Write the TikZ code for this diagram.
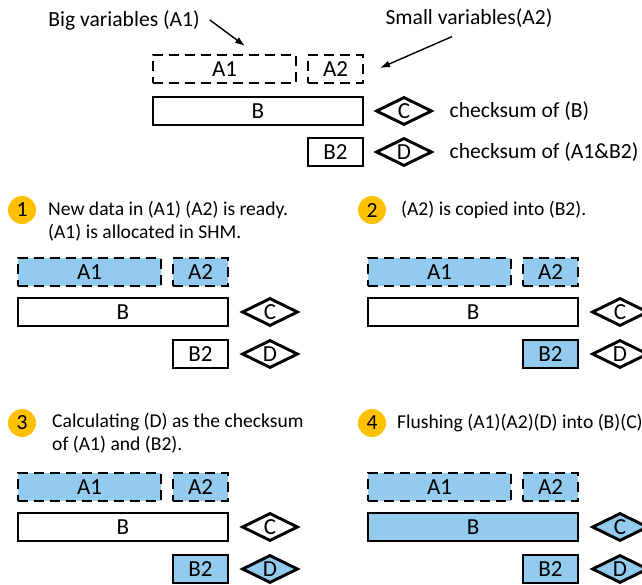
\documentclass[tikz,border=0pt]{standalone}
\usepackage{fontspec}
\setmainfont{Carlito}
\usetikzlibrary{shapes.geometric,arrows.meta}

\definecolor{varblue}{RGB}{146,203,238}
\definecolor{stepyellow}{RGB}{255,192,0}

\begin{document}
\begin{tikzpicture}[x=1pt,y=-1pt,
  font=\fontsize{21.6}{24}\selectfont,
  every node/.style={inner sep=0pt},
  box/.style={draw=black,line width=2.9pt,minimum height=28pt,font=\fontsize{23}{24}\selectfont},
  var/.style={box,dash pattern=on 10pt off 6pt},
  mem/.style={box},
  sum/.style={box,diamond,aspect=2,minimum width=56pt},
  stepnum/.style={circle,fill=stepyellow,minimum size=28pt},
  note/.style={anchor=west,align=left,font=\fontsize{19.6}{23}\selectfont},
  pointer/.style={-{Latex[length=10pt,width=7pt]},line width=1.4pt},
  on/.style={fill=varblue}]
\useasboundingbox (0,0) rectangle (642,585);
\clip (0,0) rectangle (642,585);

% legend
\node (bigvar) at (124,20) {Big variables (A1)};
\node (smallvar) at (469,18) {Small variables(A2)};
\coordinate (bigtip) at (245,46);
\coordinate (smalltip) at (380,68);
\draw[pointer] ([xshift=10pt]bigvar.east) -- (bigtip);
\draw[pointer] ([xshift=-17pt,yshift=-9pt]smallvar.south) -- (smalltip);

\begin{scope}[shift={(153,55)}]
\node[var,minimum width=143pt] (top-a1) at (71.5,14) {A1};
\node[var,minimum width=55pt] (top-a2) at (182.5,14) {A2};
\node[mem,minimum width=210pt] (top-b) at (105,56) {B};
\node[mem,minimum width=55pt] (top-b2) at (182.5,97) {B2};
\node[sum] (top-c) at (251,56) {C};
\node[sum] (top-d) at (251,97) {D};
\node[anchor=west] (top-cnote) at ([xshift=16pt]top-c.east) {checksum of (B)};
\node[anchor=west] (top-dnote) at ([xshift=16pt]top-d.east) {checksum of (A1\&B2)};
\end{scope}

% step 1
\begin{scope}[shift={(18,258)}]
\node[stepnum] (p1-num) at (4,-48) {1};
\node[note] (p1-text) at (30,-36.5) {New data in (A1) (A2) is ready.\\(A1) is allocated in SHM.};
\node[var,on,minimum width=143pt] (p1-a1) at (71.5,14) {A1};
\node[var,on,minimum width=55pt] (p1-a2) at (182.5,14) {A2};
\node[mem,minimum width=210pt] (p1-b) at (105,54) {B};
\node[mem,minimum width=55pt] (p1-b2) at (182.5,96) {B2};
\node[sum] (p1-c) at (252,54) {C};
\node[sum] (p1-d) at (252,96) {D};
\end{scope}

% step 2
\begin{scope}[shift={(368,258)}]
\node[stepnum] (p2-num) at (4,-48) {2};
\node[note] (p2-text) at (33,-48) {(A2) is copied into (B2).};
\node[var,on,minimum width=143pt] (p2-a1) at (71.5,14) {A1};
\node[var,on,minimum width=55pt] (p2-a2) at (182.5,14) {A2};
\node[mem,minimum width=210pt] (p2-b) at (105,54) {B};
\node[mem,on,minimum width=55pt] (p2-b2) at (182.5,96) {B2};
\node[sum] (p2-c) at (252,54) {C};
\node[sum] (p2-d) at (252,96) {D};
\end{scope}

% step 3
\begin{scope}[shift={(18,473)}]
\node[stepnum] (p3-num) at (4,-50) {3};
\node[note] (p3-text) at (34,-39.5) {Calculating (D) as the checksum\\of (A1) and (B2).};
\node[var,on,minimum width=143pt] (p3-a1) at (71.5,14) {A1};
\node[var,on,minimum width=55pt] (p3-a2) at (182.5,14) {A2};
\node[mem,minimum width=210pt] (p3-b) at (105,54) {B};
\node[mem,on,minimum width=55pt] (p3-b2) at (182.5,96) {B2};
\node[sum] (p3-c) at (252,54) {C};
\node[sum,on] (p3-d) at (252,96) {D};
\end{scope}

% step 4
\begin{scope}[shift={(368,473)}]
\node[stepnum] (p4-num) at (4,-50) {4};
\node[note] (p4-text) at (29,-50) {Flushing (A1)(A2)(D) into (B)(C)};
\node[var,on,minimum width=143pt] (p4-a1) at (71.5,14) {A1};
\node[var,on,minimum width=55pt] (p4-a2) at (182.5,14) {A2};
\node[mem,on,minimum width=210pt] (p4-b) at (105,54) {B};
\node[mem,on,minimum width=55pt] (p4-b2) at (182.5,96) {B2};
\node[sum,on] (p4-c) at (252,54) {C};
\node[sum,on] (p4-d) at (252,96) {D};
\end{scope}
\end{tikzpicture}
\end{document}
